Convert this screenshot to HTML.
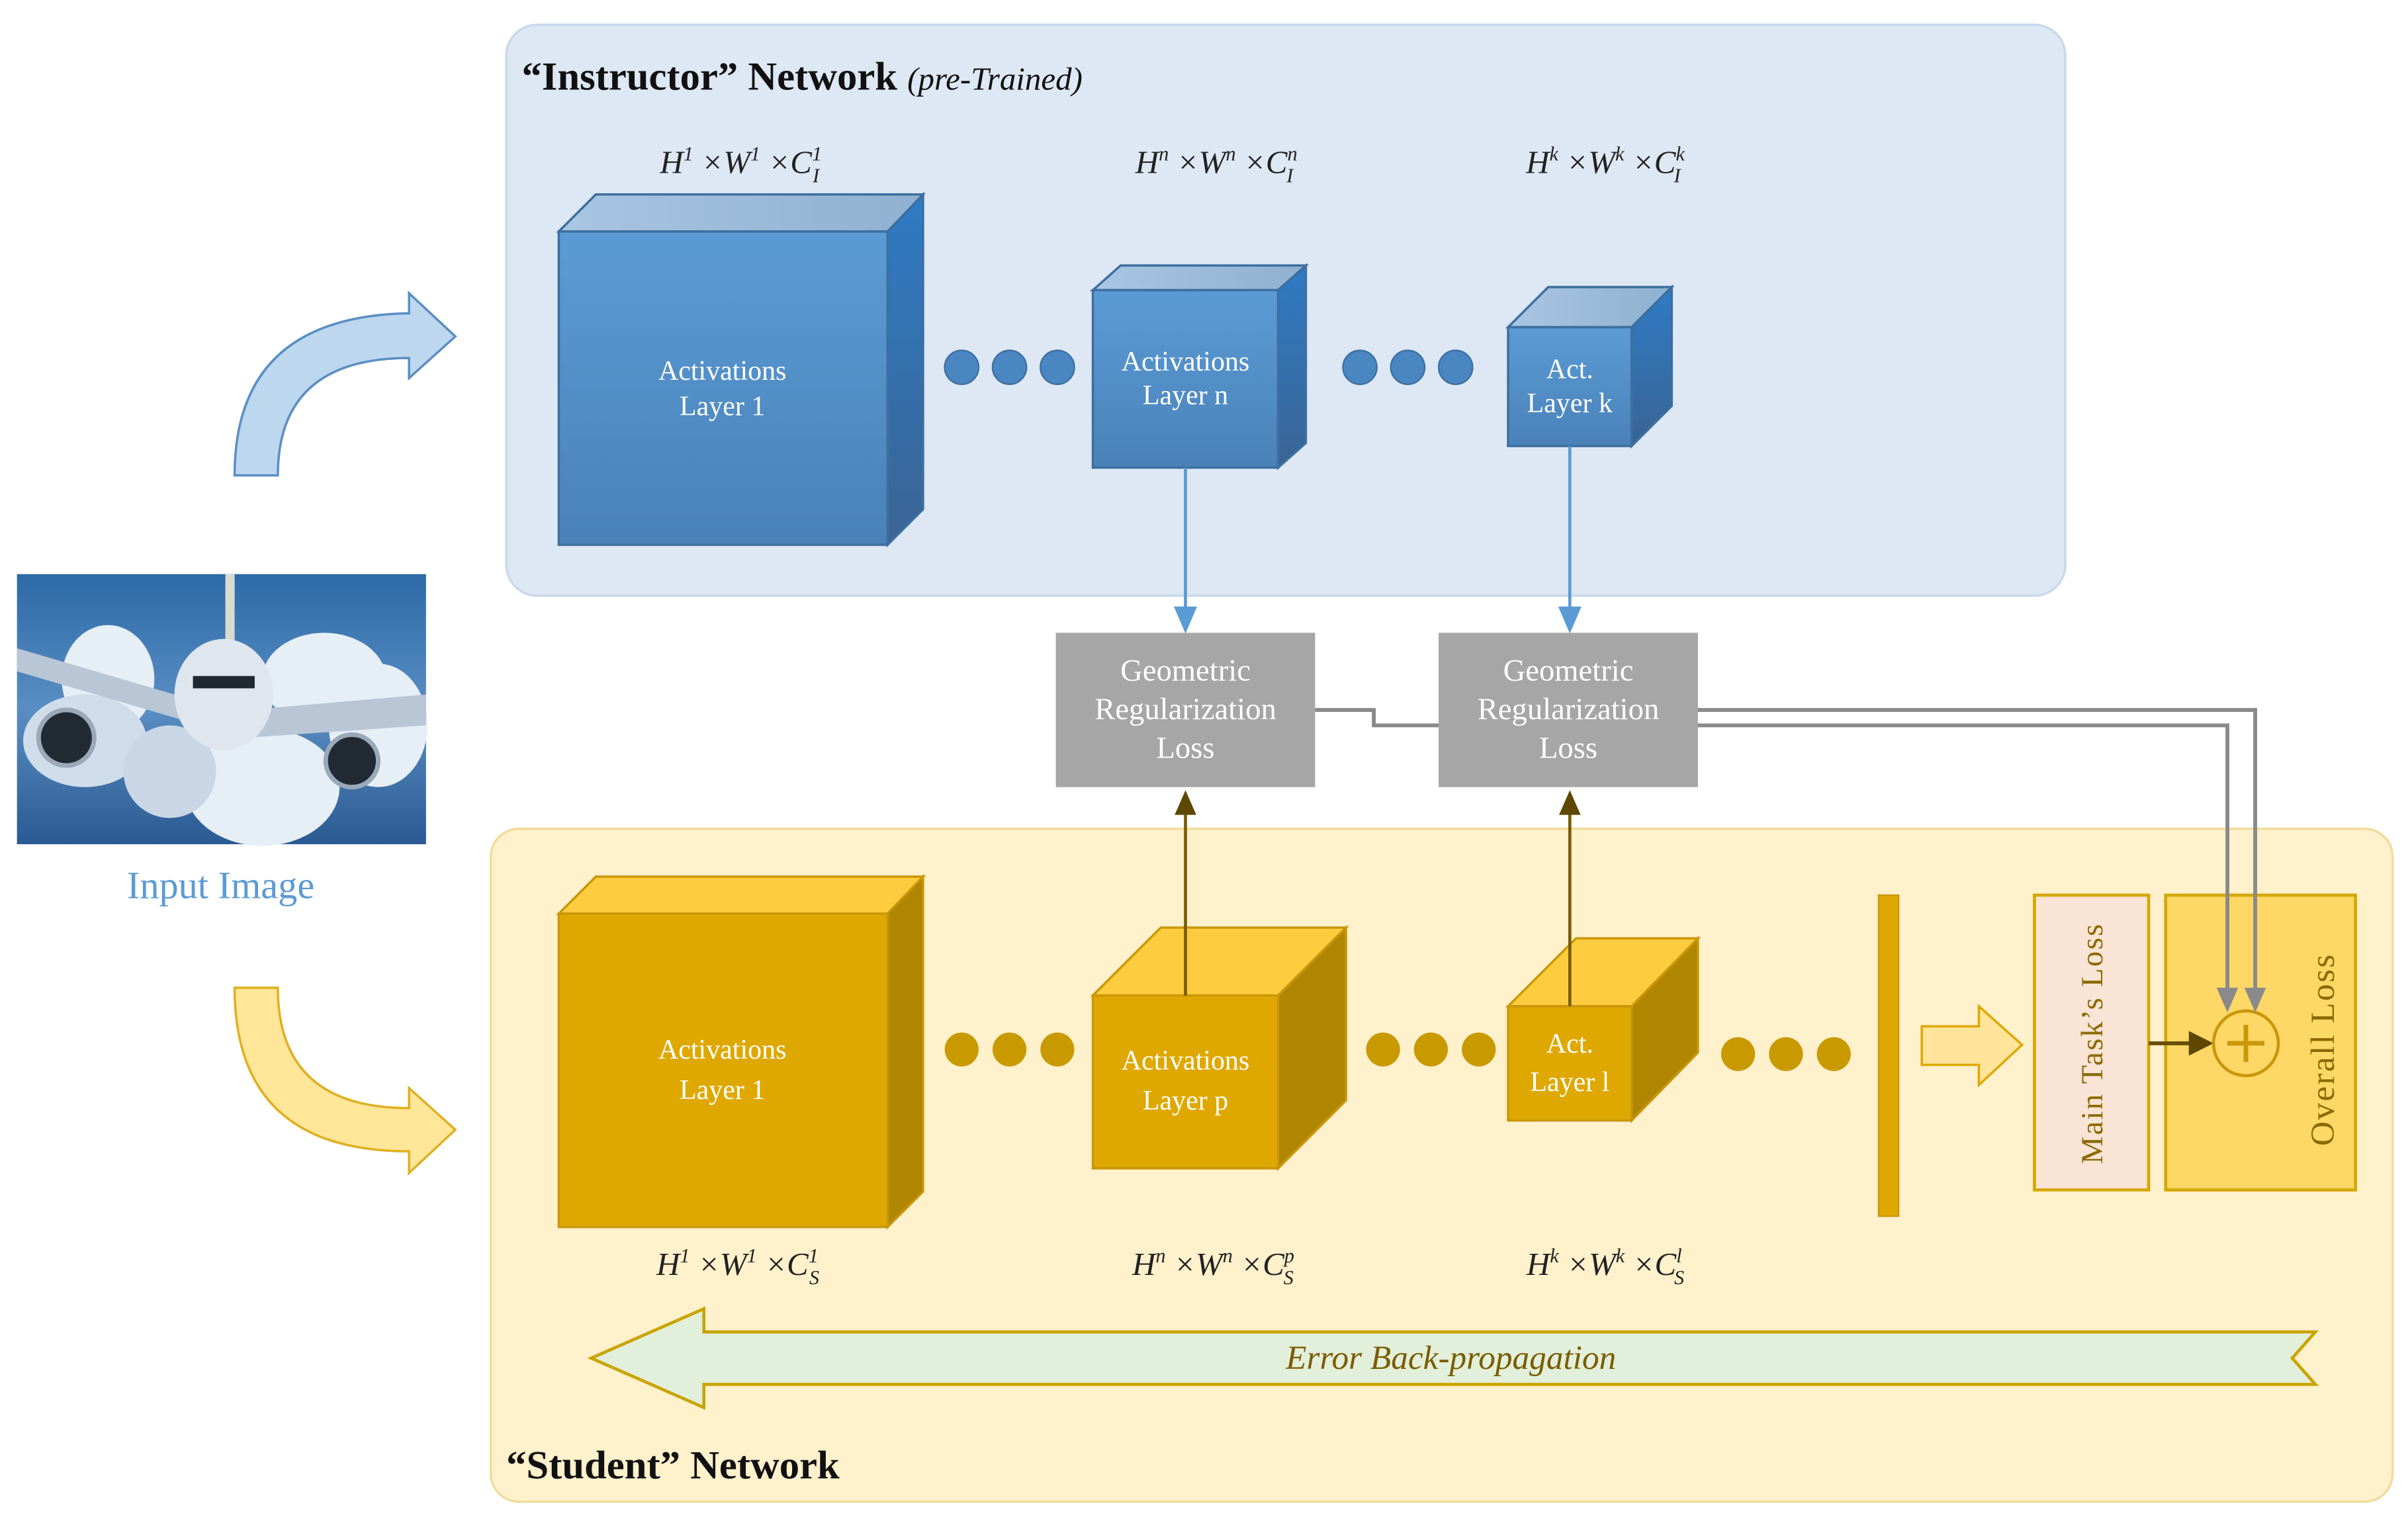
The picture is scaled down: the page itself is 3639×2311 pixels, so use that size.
<!DOCTYPE html>
<html><head><meta charset="utf-8"><style>html,body{margin:0;padding:0;background:#fff}svg{display:block}</style></head>
<body>
<svg width="3639" height="2311" viewBox="0 0 1560 990.7" xmlns="http://www.w3.org/2000/svg" font-family="Liberation Serif, serif">
<defs>
<linearGradient id="bf" x1="0" y1="0" x2="0" y2="1"><stop offset="0" stop-color="#5b9bd5"/><stop offset="1" stop-color="#4a82b8"/></linearGradient>
<linearGradient id="bt" x1="0" y1="0" x2="1" y2="0"><stop offset="0" stop-color="#a9c6e3"/><stop offset="1" stop-color="#8fb0d0"/></linearGradient>
<linearGradient id="br" x1="0" y1="0" x2="0" y2="1"><stop offset="0" stop-color="#2f7bc4"/><stop offset="1" stop-color="#3a6494"/></linearGradient>
<linearGradient id="sky" x1="0" y1="0" x2="0" y2="1"><stop offset="0" stop-color="#2d6aa8"/><stop offset="0.5" stop-color="#5a8ec3"/><stop offset="1" stop-color="#2a5a92"/></linearGradient>
</defs>

<rect x="328" y="16" width="1010" height="370" rx="20" fill="#dde8f4" stroke="#c9d9ea" stroke-width="1.5"/>
<text x="338" y="58" font-size="26" font-weight="bold" fill="#111">“Instructor” Network <tspan font-size="21" font-weight="normal" font-style="italic">(pre-Trained)</tspan></text>

<rect x="318" y="537" width="1232" height="436" rx="18" fill="#fff1cc" stroke="#f0dc9c" stroke-width="1.5"/>
<text x="328" y="958" font-size="26" font-weight="bold" fill="#111">“Student” Network</text>

<g font-size="21" font-style="italic" fill="#222" text-anchor="middle">
<text x="480" y="112">H<tspan font-size="13" dy="-8">1</tspan><tspan dy="8"> ×W</tspan><tspan font-size="13" dy="-8">1</tspan><tspan dy="8"> ×C</tspan><tspan font-size="13" dy="-8">1</tspan><tspan font-size="13" dx="-6" dy="14">I</tspan></text>
<text x="788" y="112">H<tspan font-size="13" dy="-8">n</tspan><tspan dy="8"> ×W</tspan><tspan font-size="13" dy="-8">n</tspan><tspan dy="8"> ×C</tspan><tspan font-size="13" dy="-8">n</tspan><tspan font-size="13" dx="-7" dy="14">I</tspan></text>
<text x="1040" y="112">H<tspan font-size="13" dy="-8">k</tspan><tspan dy="8"> ×W</tspan><tspan font-size="13" dy="-8">k</tspan><tspan dy="8"> ×C</tspan><tspan font-size="13" dy="-8">k</tspan><tspan font-size="13" dx="-7" dy="14">I</tspan></text>
<text x="478" y="826">H<tspan font-size="13" dy="-8">1</tspan><tspan dy="8"> ×W</tspan><tspan font-size="13" dy="-8">1</tspan><tspan dy="8"> ×C</tspan><tspan font-size="13" dy="-8">1</tspan><tspan font-size="13" dx="-6" dy="14">S</tspan></text>
<text x="786" y="826">H<tspan font-size="13" dy="-8">n</tspan><tspan dy="8"> ×W</tspan><tspan font-size="13" dy="-8">n</tspan><tspan dy="8"> ×C</tspan><tspan font-size="13" dy="-8">p</tspan><tspan font-size="13" dx="-7" dy="14">S</tspan></text>
<text x="1040" y="826">H<tspan font-size="13" dy="-8">k</tspan><tspan dy="8"> ×W</tspan><tspan font-size="13" dy="-8">k</tspan><tspan dy="8"> ×C</tspan><tspan font-size="13" dy="-8">l</tspan><tspan font-size="13" dx="-5" dy="14">S</tspan></text>
</g>

<g stroke="#3d6f9f" stroke-width="1.5">
<path d="M362,150 L386,126 L598,126 L575,150 Z" fill="url(#bt)"/>
<path d="M575,150 L598,126 L598,330 L575,353 Z" fill="url(#br)"/>
<rect x="362" y="150" width="213" height="203" fill="url(#bf)"/>
<path d="M708,188 L726,172 L846,172 L828,188 Z" fill="url(#bt)"/>
<path d="M828,188 L846,172 L846,287 L828,303 Z" fill="url(#br)"/>
<rect x="708" y="188" width="120" height="115" fill="url(#bf)"/>
<path d="M977,212 L1003,186 L1083,186 L1057,212 Z" fill="url(#bt)"/>
<path d="M1057,212 L1083,186 L1083,263 L1057,289 Z" fill="url(#br)"/>
<rect x="977" y="212" width="80" height="77" fill="url(#bf)"/>
</g>
<g font-size="18" fill="#fff" text-anchor="middle">
<text x="468" y="246">Activations</text><text x="468" y="269">Layer 1</text>
<text x="768" y="240">Activations</text><text x="768" y="262">Layer n</text>
<text x="1017" y="245">Act.</text><text x="1017" y="267">Layer k</text>
</g>
<g fill="#4a86c2" stroke="#3d6f9f">
<circle cx="623" cy="238" r="11"/><circle cx="654" cy="238" r="11"/><circle cx="685" cy="238" r="11"/>
<circle cx="881" cy="238" r="11"/><circle cx="912" cy="238" r="11"/><circle cx="943" cy="238" r="11"/>
</g>

<g stroke="#5b9bd5" stroke-width="2">
<line x1="768" y1="303" x2="768" y2="396"/><path d="M762,394 L774,394 L768,408 Z" fill="#5b9bd5"/>
<line x1="1017" y1="289" x2="1017" y2="396"/><path d="M1011,394 L1023,394 L1017,408 Z" fill="#5b9bd5"/>
</g>

<rect x="684" y="410" width="168" height="100" fill="#a6a6a6"/>
<rect x="932" y="410" width="168" height="100" fill="#a6a6a6"/>
<g font-size="20" fill="#fff" text-anchor="middle">
<text x="768" y="441">Geometric</text><text x="768" y="466">Regularization</text><text x="768" y="491">Loss</text>
<text x="1016" y="441">Geometric</text><text x="1016" y="466">Regularization</text><text x="1016" y="491">Loss</text>
</g>

<g stroke="#c9970a" stroke-width="1.5">
<path d="M362,592 L386,568 L598,568 L575,592 Z" fill="#fdcd3f"/>
<path d="M575,592 L598,568 L598,772 L575,795 Z" fill="#b08500"/>
<rect x="362" y="592" width="213" height="203" fill="#dfa800"/>
<path d="M708,645 L752,601 L872,601 L828,645 Z" fill="#fdcd3f"/>
<path d="M828,645 L872,601 L872,713 L828,757 Z" fill="#b08500"/>
<rect x="708" y="645" width="120" height="112" fill="#dfa800"/>
<path d="M977,652 L1021,608 L1100,608 L1057,652 Z" fill="#fdcd3f"/>
<path d="M1057,652 L1100,608 L1100,682 L1057,726 Z" fill="#b08500"/>
<rect x="977" y="652" width="80" height="74" fill="#dfa800"/>
</g>
<g font-size="18" fill="#fff" text-anchor="middle">
<text x="468" y="686">Activations</text><text x="468" y="712">Layer 1</text>
<text x="768" y="693">Activations</text><text x="768" y="719">Layer p</text>
<text x="1017" y="682">Act.</text><text x="1017" y="707">Layer l</text>
</g>
<g fill="#c99a00">
<circle cx="623" cy="680" r="11"/><circle cx="654" cy="680" r="11"/><circle cx="685" cy="680" r="11"/>
<circle cx="896" cy="680" r="11"/><circle cx="927" cy="680" r="11"/><circle cx="958" cy="680" r="11"/>
<circle cx="1126" cy="683" r="11"/><circle cx="1157" cy="683" r="11"/><circle cx="1188" cy="683" r="11"/>
</g>
<g stroke="#7a5c00" stroke-width="2">
<line x1="768" y1="645" x2="768" y2="525"/><line x1="1017" y1="652" x2="1017" y2="525"/>
</g>
<path d="M761,528 L775,528 L768,512 Z" fill="#5e4700"/>
<path d="M1010,528 L1024,528 L1017,512 Z" fill="#5e4700"/>

<rect x="1217" y="580" width="13" height="208" fill="#dfa800" stroke="#c9970a"/>
<path d="M1245,665 L1282,665 L1282,652 L1310,677 L1282,703 L1282,690 L1245,690 Z" fill="#ffe49a" stroke="#dfa800" stroke-width="1.5"/>
<rect x="1318" y="580" width="74" height="191" fill="#f9e4d5" stroke="#d4a800" stroke-width="2"/>
<rect x="1403" y="580" width="123" height="191" fill="#fdd866" stroke="#d4a800" stroke-width="2"/>
<text transform="translate(1362,676) rotate(-90)" font-size="20" fill="#8a6a00" text-anchor="middle" letter-spacing="1">Main Task’s Loss</text>
<text transform="translate(1512,680) rotate(-90)" font-size="22" fill="#8a6a00" text-anchor="middle" letter-spacing="1">Overall Loss</text>
<line x1="1392" y1="676" x2="1420" y2="676" stroke="#6a5000" stroke-width="2.5"/>
<path d="M1418,668 L1434,676 L1418,684 Z" fill="#5e4700"/>
<circle cx="1455" cy="676" r="21" fill="#fdd866" stroke="#c9970a" stroke-width="2"/>
<path d="M1443,676 L1467,676 M1455,664 L1455,688" stroke="#c9970a" stroke-width="3"/>

<!-- gray connectors on top -->
<g stroke="#8a8a8a" stroke-width="2.5" fill="none">
<path d="M852,460 L890,460 L890,470 L932,470"/>
<path d="M1100,460 L1461,460 L1461,642"/>
<path d="M1100,470 L1443,470 L1443,642"/>
</g>
<path d="M1436,640 L1450,640 L1443,656 Z" fill="#8a8a8a"/>
<path d="M1454,640 L1468,640 L1461,656 Z" fill="#8a8a8a"/>

<path d="M383,880 L456,848 L456,863 L1500,863 L1485,880 L1500,897 L456,897 L456,912 Z" fill="#e2efda" stroke="#c9a400" stroke-width="2"/>
<text x="940" y="887" font-size="22" font-style="italic" fill="#7a5c00" text-anchor="middle">Error Back-propagation</text>

<path d="M152,308 Q152,205 265,203 L265,190 L295,218 L265,245 L265,232 Q180,232 180,308 Z" fill="#bdd7ee" stroke="#5b8ec4" stroke-width="1.5"/>
<path d="M152,640 L180,640 Q180,718 265,718 L265,705 L295,732 L265,760 L265,746 Q152,746 152,640 Z" fill="#ffe699" stroke="#e0b020" stroke-width="1.5"/>

<rect x="11" y="372" width="265" height="175" fill="url(#sky)"/>
<g fill="#e6eef6">
<ellipse cx="70" cy="440" rx="30" ry="35"/><ellipse cx="55" cy="480" rx="40" ry="30" fill="#cfdcea"/>
<ellipse cx="210" cy="440" rx="40" ry="30"/><ellipse cx="245" cy="470" rx="32" ry="40"/>
<ellipse cx="170" cy="510" rx="50" ry="38"/><ellipse cx="110" cy="500" rx="30" ry="30" fill="#c8d6e6"/>
</g>
<path d="M11,420 L130,455 L130,470 L11,435 Z" fill="#b8c6d6"/>
<path d="M276,450 L160,460 L160,478 L276,470 Z" fill="#b8c6d6"/>
<rect x="146" y="372" width="6" height="60" fill="#d8dcd0"/>
<ellipse cx="145" cy="450" rx="32" ry="36" fill="#dfe6ee"/>
<rect x="125" y="438" width="40" height="8" fill="#202830"/>
<circle cx="43" cy="478" r="18" fill="#222a34" stroke="#9aa8b8" stroke-width="3"/>
<circle cx="228" cy="493" r="17" fill="#222a34" stroke="#9aa8b8" stroke-width="3"/>
<text x="143" y="582" font-size="25" fill="#5b9bd5" text-anchor="middle">Input Image</text>
</svg>
</body></html>
